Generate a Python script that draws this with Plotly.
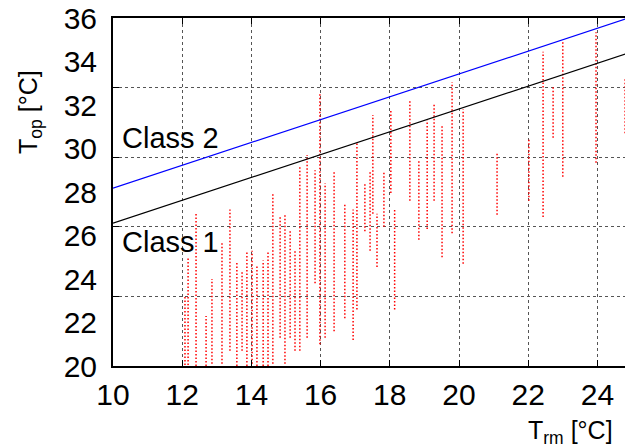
import plotly.graph_objects as go

# ---- data ----
line_x = [10, 25]
class1_y = [26.57, 34.44]
class2_y = [28.18, 36.05]

# measured streaks of T_op samples: running-mean temperature, min and max T_op
streak_x = [12.08, 12.17, 12.40, 12.69, 12.86, 13.15, 13.38, 13.58, 13.73, 13.87,
            14.02, 14.16, 14.34, 14.48, 14.62, 14.83, 14.97, 15.12, 15.26, 15.40,
            15.61, 15.84, 15.98, 16.13, 16.39, 16.70, 16.94, 17.05, 17.28, 17.43,
            17.51, 17.63, 17.83, 18.03, 18.14, 18.58, 18.84, 19.08, 19.28, 19.51,
            19.80, 20.12, 21.10, 22.02, 22.43, 22.72, 23.00, 23.96, 24.80]
streak_lo = [20.05, 20.05, 20.00, 20.00, 20.10, 20.10, 20.70, 20.00, 20.70, 20.00,
             20.10, 20.00, 20.00, 20.00, 20.10, 21.30, 20.10, 21.30, 20.70, 20.70,
             21.30, 23.80, 21.00, 21.30, 21.60, 22.20, 21.20, 22.60, 26.20, 25.30,
             27.00, 24.55, 26.40, 27.95, 22.60, 27.60, 25.80, 26.30, 27.60, 25.00,
             26.10, 24.70, 26.95, 27.60, 26.85, 30.50, 28.70, 29.35, 30.70]
streak_hi = [23.20, 25.00, 27.00, 22.30, 24.00, 25.65, 27.20, 24.80, 24.40, 25.30,
             25.30, 24.60, 24.85, 25.30, 27.95, 26.85, 27.00, 26.25, 25.30, 29.15,
             29.70, 29.00, 32.50, 28.40, 29.00, 27.50, 27.20, 30.25, 28.40, 29.00,
             31.54, 27.00, 28.90, 31.77, 27.20, 32.20, 29.50, 31.30, 32.10, 31.10,
             33.05, 31.80, 29.85, 30.50, 34.45, 32.90, 34.90, 35.35, 33.20]

y_tick_labels = [20, 22, 24, 26, 28, 30, 32, 34, 36]
x_tick_vals = [12, 14, 16, 18, 20, 22, 24]
x_tick_labels = [10, 12, 14, 16, 18, 20, 22, 24]
y_grid_vals = [23.2, 26.4, 29.6, 32.8]

FONT = "Liberation Sans, Arial, sans-serif"

sx, sy = [], []
for x, lo, hi in zip(streak_x, streak_lo, streak_hi):
    sx += [x, x, None]
    sy += [lo, hi, None]

fig = go.Figure()
fig.add_trace(go.Scatter(x=[10], y=[20], xaxis="x2", yaxis="y2", mode="markers",
                         marker=dict(opacity=0), showlegend=False, hoverinfo="skip"))
fig.add_trace(go.Scatter(x=sx, y=sy, mode="lines",
                         line=dict(color="#ff0000", width=1.5, dash="1.5px,2px"),
                         showlegend=False, hoverinfo="skip"))
fig.add_trace(go.Scatter(x=line_x, y=class2_y, mode="lines",
                         line=dict(color="#0000ff", width=1.2), showlegend=False))
fig.add_trace(go.Scatter(x=line_x, y=class1_y, mode="lines",
                         line=dict(color="#000000", width=1.2), showlegend=False))

fig.update_layout(
    width=625, height=440,
    margin=dict(l=105, r=1, t=10, b=82, autoexpand=False),
    paper_bgcolor="white", plot_bgcolor="white",
    font=dict(family=FONT, size=28, color="black"),
    xaxis=dict(range=[10, 25], tickmode="array", tickvals=x_tick_labels,
               ticktext=[str(v) for v in x_tick_labels],
               showgrid=False, ticks="", showline=True, linecolor="black",
               linewidth=2, mirror=True, zeroline=False, automargin=False,
               tickfont=dict(size=30), ticklabelstandoff=1,
               ticklabeloverflow="allow"),
    yaxis=dict(range=[20, 36], tickmode="array", tickvals=y_tick_labels,
               ticktext=[str(v) for v in y_tick_labels],
               showgrid=False, ticks="", showline=True, linecolor="black",
               linewidth=2, mirror=True, zeroline=False, automargin=False,
               tickfont=dict(size=30), ticklabelstandoff=8,
               ticklabeloverflow="allow"),
    yaxis2=dict(range=[20, 36], overlaying="y", side="left", tickmode="array",
                tickvals=y_grid_vals, showticklabels=False, showgrid=True,
                gridcolor="#555", griddash="dot", gridwidth=1,
                ticks="inside", ticklen=6, tickcolor="black", mirror="ticks",
                showline=False, zeroline=False, automargin=False),
    xaxis2=dict(range=[10, 25], overlaying="x", tickmode="array",
                tickvals=x_tick_vals, showticklabels=False, showgrid=True,
                gridcolor="#555", griddash="dot", gridwidth=1,
                ticks="inside", ticklen=6, tickcolor="black", mirror="ticks",
                showline=False, zeroline=False, automargin=False),
)

fig.add_annotation(x=10.2, y=30.48, xref="x", yref="y", text="Class 2",
                   showarrow=False, xanchor="left", yanchor="middle",
                   font=dict(size=29))
fig.add_annotation(x=10.2, y=25.7, xref="x", yref="y", text="Class 1",
                   showarrow=False, xanchor="left", yanchor="middle",
                   font=dict(size=29))
fig.add_annotation(x=-0.16, y=0.73, xref="paper", yref="paper",
                   text="T<sub>op</sub> [°C]", textangle=-90, showarrow=False,
                   xanchor="center", yanchor="middle", font=dict(size=25))
fig.add_annotation(x=0.967, y=-0.19, xref="paper", yref="paper",
                   text="T<sub>rm</sub> [°C]", showarrow=False,
                   xanchor="right", yanchor="middle", font=dict(size=25))

fig.write_html("out.html")
